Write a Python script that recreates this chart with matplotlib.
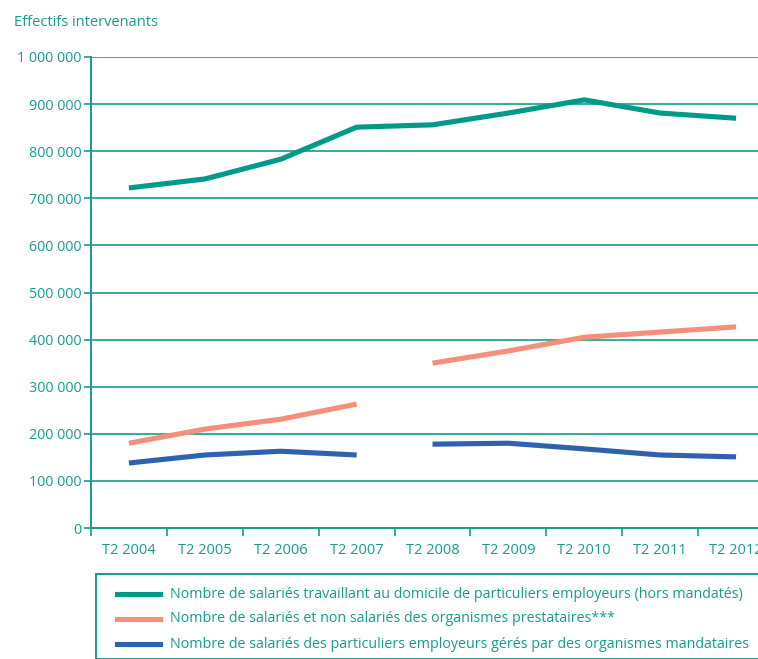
import matplotlib
matplotlib.use("Agg")
import matplotlib.pyplot as plt
import numpy as np
from matplotlib.ticker import FuncFormatter, FixedLocator
from matplotlib.lines import Line2D
from matplotlib.patches import Rectangle

categories = ["T2 2004", "T2 2005", "T2 2006", "T2 2007", "T2 2008",
              "T2 2009", "T2 2010", "T2 2011", "T2 2012"]
domicile = [722000, 741000, 783000, 851000, 856000, 881000, 909000, 881000, 870000]
prestataires = [180000, 210000, 231000, 263000, 350000, 376000, 405000, 416000, 427000]
mandataires = [138000, 155000, 163000, 155000, 178000, 180000, 168000, 155000, 151000]
yticks = [0, 100000, 200000, 300000, 400000, 500000, 600000, 700000, 800000, 900000, 1000000]
labels = ["Nombre de salariés travaillant au domicile de particuliers employeurs (hors mandatés)",
          "Nombre de salariés et non salariés des organismes prestataires***",
          "Nombre de salariés des particuliers employeurs gérés par des organismes mandataires"]
break_after = 4  # series break between T2 2007 and T2 2008 for the last two series

TEAL = "#169c8c"
GREEN = "#009b88"
ORANGE = "#f4907a"
BLUE = "#2e62ae"
LW = 3.7
plt.rcParams['font.family'] = ['Open Sans', 'DejaVu Sans']

fig = plt.figure(figsize=(7.58, 6.59), dpi=100)
ax = fig.add_axes([91/758, 1-528/659, (774-91)/758, (528-57)/659])

x = np.arange(len(categories)) + 0.5
ax.plot(x, domicile, color=GREEN, lw=LW, solid_capstyle='butt', zorder=3)
for series, col in [(prestataires, ORANGE), (mandataires, BLUE)]:
    ax.plot(x[:break_after], series[:break_after], color=col, lw=LW, solid_capstyle='butt', zorder=3)
    ax.plot(x[break_after:], series[break_after:], color=col, lw=LW, solid_capstyle='butt', zorder=3)

ax.set_xlim(0, len(categories))
ax.set_ylim(0, 1000000)
ax.set_yticks(yticks)
ax.yaxis.set_major_formatter(FuncFormatter(lambda v, p: f"{int(v):,}".replace(",", " ")))
ax.set_xticks(x)
ax.set_xticklabels(categories)
ax.xaxis.set_minor_locator(FixedLocator(np.arange(len(categories) + 1)))
ax.tick_params(axis='x', which='major', length=0, pad=11, labelcolor=TEAL, labelsize=10.5)
ax.tick_params(axis='x', which='minor', length=6, width=1.2, color=TEAL, direction='out')
ax.tick_params(axis='y', length=5, width=1.2, color=TEAL, labelcolor=TEAL, labelsize=10.3, pad=2)
ax.grid(axis='y', color=TEAL, lw=1.2)
ax.set_axisbelow(True)
for s in ['top', 'right']:
    ax.spines[s].set_visible(False)
for s in ['left', 'bottom']:
    ax.spines[s].set_color(TEAL)
    ax.spines[s].set_linewidth(1.4)

fig.text(14/758, 1-22/659, "Effectifs intervenants", color=TEAL, fontsize=10.5, va='center', ha='left')

# legend box
fig.patches.append(Rectangle((96/758, 0), (800-96)/758, (659-574)/659, transform=fig.transFigure,
                             fill=False, edgecolor=TEAL, lw=1.4))
for i, (lab, col) in enumerate(zip(labels, [GREEN, ORANGE, BLUE])):
    yy = 1 - (594 + 25*i)/659
    fig.lines.append(Line2D([117/758, 160/758], [yy, yy], transform=fig.transFigure, color=col, lw=LW))
    fig.text(170/758, yy, lab, color=TEAL, fontsize=10.3, va='center', ha='left')

fig.savefig("out.png", dpi=100)
